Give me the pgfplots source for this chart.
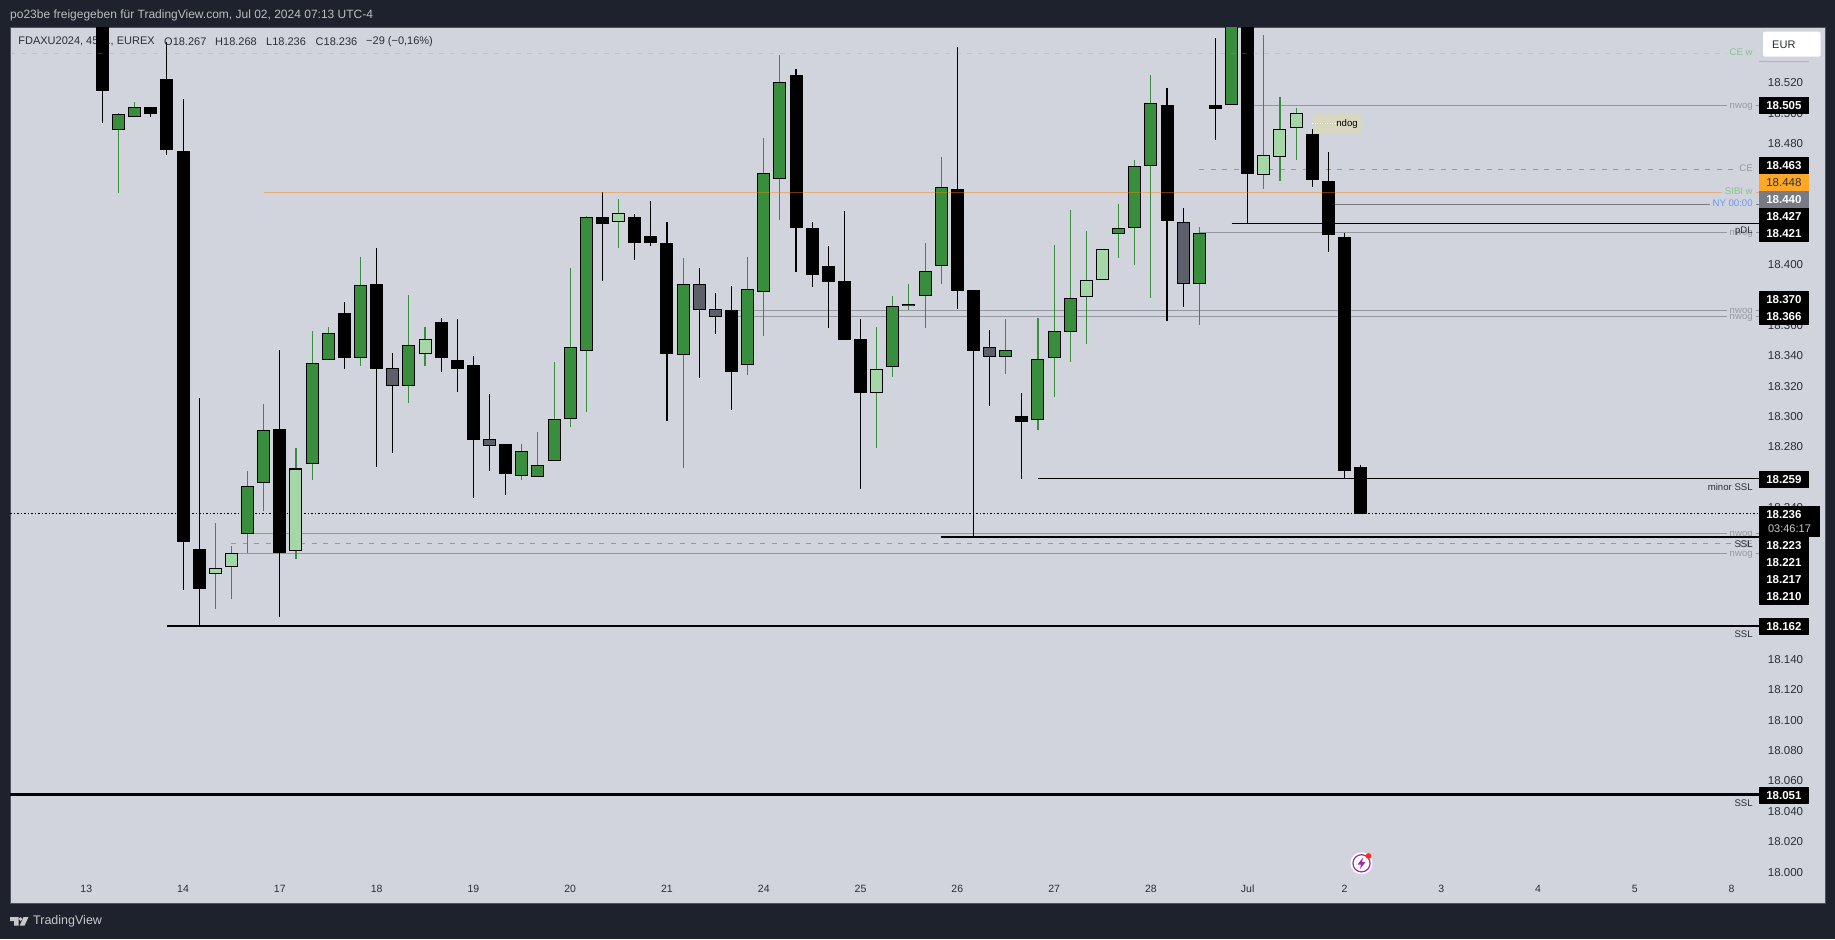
\documentclass[border=0pt]{standalone}
\usepackage{pgfplots}
\usepackage{pgfplotstable}
\usepackage{fontspec}
\setmainfont{Liberation Sans}
\pgfplotsset{compat=1.18}

\definecolor{frame}{HTML}{1E222D}
\definecolor{pane}{HTML}{D1D4DC}
\definecolor{edge}{HTML}{50535E}
\definecolor{up}{HTML}{388E3C}
\definecolor{uplight}{HTML}{A5D6A7}
\definecolor{flat}{HTML}{5D606B}
\definecolor{lvl}{HTML}{9598A1}
\definecolor{tagorange}{HTML}{FFA726}
\definecolor{taggrey}{HTML}{787B86}
\definecolor{ink}{HTML}{2A2E39}
\definecolor{ceg}{HTML}{81C784}
\definecolor{nyblue}{HTML}{6C97F0}
\definecolor{badge}{HTML}{9C27B0}

% i open high low close
\pgfplotstableread{
i o h l c
1 18489.3 18499.8 18447.6 18499.8
2 18497.2 18507.3 18497.2 18503.8
9 18223.1 18264.2 18210.4 18254.7
10 18256 18308.1 18238 18291
13 18268.6 18356.5 18258.4 18335.2
14 18337.1 18359.1 18337.1 18355
16 18339.1 18405.2 18333.4 18387.2
19 18320.4 18380.2 18309.2 18347
26 18260.6 18282 18258.4 18277.2
27 18260.6 18289.7 18260.6 18268.5
28 18271.2 18336 18271.2 18298.9
29 18298.3 18398 18293.4 18345.7
30 18343 18432.2 18303.3 18431.3
36 18341 18404.5 18266.4 18387.8
40 18333.8 18405.2 18327.7 18383.9
41 18381.9 18483.6 18353.3 18460.3
42 18456.3 18538.2 18429.5 18520.2
49 18333.1 18379.5 18326.3 18372.7
50 18372.7 18387.4 18370.5 18374
51 18379.3 18414.4 18358.6 18395.7
52 18399 18471 18387.6 18451
56 18339.5 18364.3 18328.1 18343.7
58 18298.2 18364.8 18291.4 18337.8
59 18338.9 18413 18313.2 18356.2
60 18356 18436.1 18336.2 18377.9
63 18420.5 18440.1 18404.7 18424.7
64 18424.5 18469 18400.1 18464.9
65 18464.9 18525.1 18378.4 18506.4
68 18387.2 18424.9 18360.6 18420.8
70 18505.1 18600 18505.1 18600
}\greenbars
\pgfplotstableread{
i o h l c
7 18196.5 18229.9 18173.5 18200.7
8 18200.7 18214.7 18180 18209.9
12 18211.9 18279.2 18206.4 18266
20 18341.5 18359.1 18333.4 18351
32 18428 18443.4 18411.3 18433.9
48 18316 18359 18279.6 18331.8
61 18379 18422.3 18348.1 18389.8
62 18389.8 18410.2 18389.8 18410.2
72 18459 18551.4 18450.2 18472.2
73 18470.9 18510.6 18455.5 18489.3
74 18490 18503.6 18469.1 18499.8
}\lightbars
\pgfplotstableread{
i o h l c
0 18600 18600 18493.7 18514.8
3 18504 18504 18497.6 18499.6
4 18522.2 18547 18472.6 18475.9
5 18474.8 18509.3 18186 18217.6
6 18212.8 18312.3 18162.7 18186.6
11 18291.7 18343.9 18168.2 18210.4
15 18368.1 18375.3 18331.6 18338.9
17 18387.2 18411.1 18267.1 18331.6
21 18362.4 18365 18329.7 18338.9
22 18337.1 18364.4 18316.5 18331.6
23 18333.8 18340 18246.6 18284.9
25 18282 18282 18248.6 18262.4
31 18431.4 18447.8 18389.6 18427.2
33 18431.5 18433.3 18403.4 18414.6
34 18419 18442 18412.6 18414.6
35 18414.4 18428.2 18297.4 18341.5
39 18370.3 18386 18304.6 18329.6
43 18525 18529 18395.5 18424.5
44 18424.3 18428.2 18385.6 18393.5
45 18399.2 18412.4 18358.6 18388.9
46 18389.4 18435.5 18350.7 18350.7
47 18351.2 18364.3 18252.6 18315.8
53 18450 18543.3 18371.1 18383
54 18383.4 18383.4 18221 18343.5
57 18300.4 18316 18259 18296.7
66 18505.3 18516.5 18363.2 18429.1
69 18505.3 18549.2 18482.5 18502.9
71 18600 18600 18427.4 18460.1
75 18486.2 18489.3 18451.5 18456.1
76 18455.3 18474.4 18408.7 18419.9
77 18418.4 18421 18258.7 18264.4
78 18267 18268 18236 18236
}\blackbars
\pgfplotstableread{
i o h l c
18 18331.9 18342 18276.3 18320.4
24 18285.1 18315 18264.4 18280.9
37 18387.2 18397.9 18325.7 18370.5
38 18370.7 18381.5 18354.7 18365.9
55 18345.7 18357 18307 18339.5
67 18428 18437.5 18372.4 18387.2
}\greybars

% price tags: y is where the tag sits, t is what it says
\pgfplotstableread{
x y t
104.24 18504.9 18.505
104.24 18465.3 18.463
104.24 18431.7 18.427
104.24 18420.5 18.421
104.24 18377 18.370
104.24 18366.2 18.366
104.24 18258.5 18.259
104.24 18215 18.223
104.24 18203.6 18.221
104.24 18192.6 18.217
104.24 18181.4 18.210
104.24 18161.9 18.162
104.24 18050.3 18.051
}\blacktags

\newcommand\candles[3]{%
  \addplot[mark=none, draw=none, forget plot, error bars/.cd, y dir=both, y explicit, error mark=none,
    error bar style={draw=#2, line width=1.1pt}]
    table[x=i, y expr={(\thisrow{h}+\thisrow{l})/2}, y error expr={(\thisrow{h}-\thisrow{l})/2}] {#1};
  \addplot[mark=none, draw=none, forget plot, error bars/.cd, y dir=both, y explicit, error mark=none,
    error bar style={draw=black, line width=13pt}]
    table[x=i, y expr={(\thisrow{o}+\thisrow{c})/2}, y error expr={abs(\thisrow{o}-\thisrow{c})/2}] {#1};
  \addplot[mark=none, draw=none, forget plot, error bars/.cd, y dir=both, y explicit, error mark=none,
    error bar style={draw=#3, line width=11pt}]
    table[x=i, y expr={(\thisrow{o}+\thisrow{c})/2}, y error expr={max(abs(\thisrow{o}-\thisrow{c})/2-0.66,0.01)}] {#1};
}
% text placed by picture pixels
\newcommand\lbl[4][]{\node[inner sep=0pt, #1] at (axis cs:{(#2-102.4)/16.13},{18520-(#3-82.7)/1.518}) {#4};}
\newcommand\side[3][ink]{\node[anchor=east, fill=pane, inner xsep=3pt, inner ysep=0pt, text=#1, font=\labelfont, text height=6.5pt, text depth=1pt]
  at (axis cs:{(1755.8-102.4)/16.13},{18520-(#2-82.7)/1.518}) {#3};}
% same, without the patch behind it, for text lying over another label
\newcommand\sideover[3][ink]{\node[anchor=east, inner xsep=3pt, inner ysep=0pt, text=#1, font=\labelfont, text height=6.5pt, text depth=1pt]
  at (axis cs:{(1755.8-102.4)/16.13},{18520-(#2-82.7)/1.518}) {#3};}
\newcommand\labelfont{\fontsize{9.6}{10}\selectfont}
\newcommand\tagfont{\fontsize{11.5}{12}\selectfont}
\newcommand\tagbold{\fontsize{11.5}{12}\selectfont\bfseries}

\begin{document}
\begin{tikzpicture}
\fill[frame] (0pt,0pt) rectangle (1835pt,-939pt);
\node[anchor=west, inner sep=0pt, text=white!70!frame, font=\fontsize{12}{12}\selectfont] at (10pt,-15pt)
  {po23be freigegeben für TradingView.com, Jul 02, 2024 07:13 UTC-4};
\begin{axis}[
  at={(10pt,-903pt)}, anchor=south west,
  scale only axis,
  width=1815pt, height=876pt,
  xmin=-5.728, xmax=106.79,
  ymin=17979.6, ymax=18556.7,
  axis background/.style={fill=pane},
  axis line style={draw=edge, line width=1pt},
  major tick length=0pt,
  tick style={draw=none},
  ytick={18000,18020,...,18520},
  yticklabel pos=right,
  scaled y ticks=false,
  /pgf/number format/fixed,
  /pgf/number format/1000 sep={.},
  /pgf/number format/assume math mode=true,
  yticklabel style={anchor=east, xshift=-21.7pt, inner sep=0pt, font=\tagfont, text=ink},
  xtick={-1,5,11,17,23,29,35,41,47,53,59,65,71,77,83,89,95,101},
  xticklabels={13,14,17,18,19,20,21,24,25,26,27,28,Jul,2,3,4,5,8},
  xticklabel style={anchor=center, yshift=14pt, inner sep=0pt, font=\fontsize{10.5}{12}\selectfont, text=ink},
]
% legend row sits under the candles
\lbl[anchor=west, font=\fontsize{11}{12}\selectfont, text=ink]{18.2}{41.7}{FDAXU2024, 45 ..., EUREX}
\lbl[anchor=west, font=\fontsize{11}{12}\selectfont, text=ink]{164}{41.7}{O18.267}
\lbl[anchor=west, font=\fontsize{11}{12}\selectfont, text=ink]{215}{41.7}{H18.268}
\lbl[anchor=west, font=\fontsize{11}{12}\selectfont, text=ink]{266}{41.7}{L18.236}
\lbl[anchor=west, font=\fontsize{11}{12}\selectfont, text=ink]{315.5}{41.7}{C18.236}
\lbl[anchor=west, font=\fontsize{11}{12}\selectfont, text=ink]{366}{41.7}{−29 (−0,16\%)}

% levels behind the candles
\addplot[lvl, line width=1pt] coordinates {(71,18505) (102.7,18505)};
\addplot[lvl, line width=1pt] coordinates {(68,18421) (102.7,18421)};
\addplot[lvl, line width=1pt] coordinates {(39,18370) (102.7,18370)};
\addplot[lvl, line width=1pt] coordinates {(39,18366) (102.7,18366)};
\addplot[lvl, line width=1pt] coordinates {(9,18223) (102.7,18223)};
\addplot[lvl, line width=1pt] coordinates {(8,18210) (102.7,18210)};
\addplot[lvl, line width=1pt, dash pattern=on 5pt off 6.5pt] coordinates {(68,18463) (102.7,18463)};
\addplot[lvl, line width=1pt, dash pattern=on 5pt off 6.5pt] coordinates {(8,18216.5) (102.7,18216.5)};
\addplot[taggrey, line width=1pt] coordinates {(76,18440) (102.7,18440)};
\addplot[black, line width=1pt, dash pattern=on 1.5pt off 2pt] coordinates {(-5.728,18236) (102.7,18236)};

\candles{\greenbars}{up}{up}
\candles{\lightbars}{up}{uplight}
\candles{\blackbars}{black}{black}
\candles{\greybars}{black}{flat}

\addplot[orange, line width=1pt, opacity=.45] coordinates {(10,18448) (102.7,18448)};
\addplot[orange, line width=1pt, opacity=.3, dash pattern=on 5pt off 6pt] coordinates {(-5.728,18539.4) (102.7,18539.4)};
\addplot[tagorange, line width=1pt] coordinates {(102.7,18534) (105.8,18534)};

\side[ceg]{53}{CE w}
\side[lvl]{105.6}{nwog}
\side[lvl]{168.7}{CE}
\side[ceg]{191.7}{SIBI w}
\side[nyblue]{203.3}{NY 00:00}
\side[lvl]{233}{nwog}
\sideover{231}{pDL}
\side[lvl]{310.7}{nwog}
\side[lvl]{316.7}{nwog}
\side{487.7}{minor SSL}
\side[lvl]{534}{nwog}
\side[lvl]{544.3}{CE}
\sideover{544.3}{SSL}
\side[lvl]{554}{nwog}
\side{634.3}{SSL}
\side{804}{SSL}

\addplot[black, line width=1pt] coordinates {(70,18427) (102.7,18427)};
\addplot[black, line width=1pt] coordinates {(58,18259) (102.7,18259)};
\addplot[black, line width=2pt] coordinates {(52,18221) (102.7,18221)};
\addplot[black, line width=2pt] coordinates {(4,18162) (102.7,18162)};
\addplot[black, line width=3pt] coordinates {(-5.728,18051) (102.7,18051)};

% ndog
\lbl[fill={rgb,255:red,216;green,215;blue,192}, minimum width=48pt, minimum height=20pt]{1337}{124}{}
\addplot[white, line width=1pt, dash pattern=on 1pt off 1.5pt] coordinates {(75,18493) (77.9,18493)};
\lbl[fill={rgb,255:red,216;green,215;blue,192}, font=\labelfont, text=black]{1347}{124}{ndog}

% price tags
\addplot[mark=none, draw=none, point meta=explicit symbolic, nodes near coords,
  nodes near coords style={anchor=center, fill=black, text=white, minimum width=50pt, minimum height=17.4pt, inner sep=0pt, font=\tagbold}]
  table[x=x, y=y, meta=t] {\blacktags};
\addplot[mark=none, draw=none, point meta=explicit symbolic, nodes near coords,
  nodes near coords style={anchor=center, fill=tagorange, text=ink, minimum width=50pt, minimum height=17.4pt, inner sep=0pt, font=\tagfont}]
  coordinates {(104.24,18454.1) [18.448]};
\addplot[mark=none, draw=none, point meta=explicit symbolic, nodes near coords,
  nodes near coords style={anchor=center, fill=taggrey, text=white, minimum width=50pt, minimum height=17.4pt, inner sep=0pt, font=\tagbold}]
  coordinates {(104.24,18442.9) [18.440]};
\lbl[fill=black, minimum width=61pt, minimum height=31pt]{1789.4}{521.3}{}
\lbl[text=white, font=\tagbold]{1783.8}{514.7}{18.236}
\lbl[text=white!80!black, font=\fontsize{11}{12}\selectfont]{1789.4}{528.7}{03:46:17}
% 18.000 is cut by the scale's lower edge
\lbl[fill=pane, minimum width=50pt, minimum height=5pt]{1783}{878.5}{}
\end{axis}

\begin{scope}[x=1pt, y=-1pt]
\fill[white] (1763,31.7) [rounded corners=2pt] rectangle (1820.6,56.7);
\node[anchor=west, inner sep=0pt, text=ink, font=\fontsize{11}{12}\selectfont] at (1772,44.3) {EUR};
% alert badge
\fill[white] (1361.5,863.3) circle (11);
\draw[badge, line width=1.2pt] (1361.5,863.3) circle (8.6);
\fill[badge] (1363,857.5) -- (1357.5,864.5) -- (1361,864.5) -- (1360,869) -- (1365.5,862) -- (1362,862) -- cycle;
\fill[red!85!white] (1368.5,856) circle (2.8);
% logo
\fill[white!75!frame] (10,917) -- (18.5,917) -- (18.5,925.7) -- (14,925.7) -- (14,921) -- (10,921) -- cycle;
\fill[white!75!frame] (20.6,919) circle (1.9);
\fill[white!75!frame] (23.5,917) -- (28.5,917) -- (24.5,925.7) -- (19.7,925.7) -- cycle;
\node[anchor=west, inner sep=0pt, text=white!75!frame, font=\fontsize{12.5}{14}\selectfont] at (33,921.7) {TradingView};
\end{scope}
\end{tikzpicture}
\end{document}
